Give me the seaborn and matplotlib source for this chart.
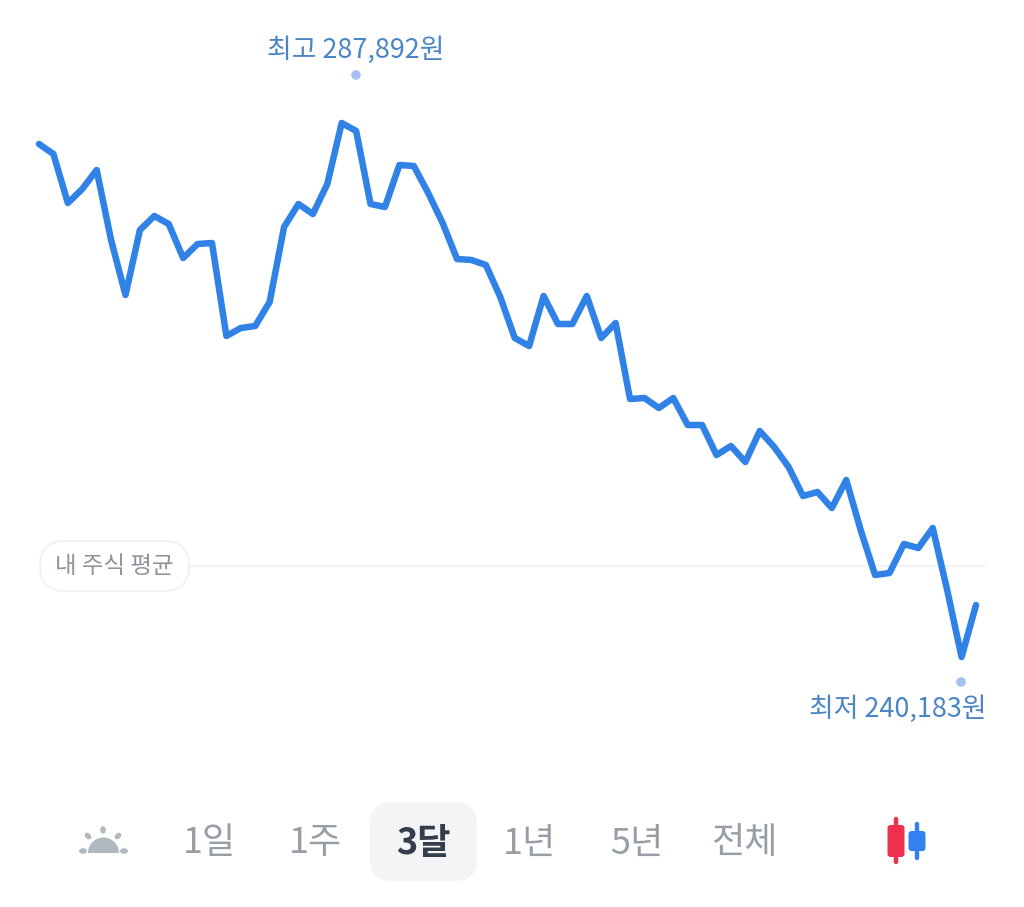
import matplotlib
matplotlib.use("Agg")
import matplotlib.pyplot as plt
from matplotlib.patches import FancyBboxPatch, Wedge, Circle, Ellipse
import numpy as np
import pandas as pd
import seaborn as sns

# Closing prices for the three-month view, in won
prices = [
    286016, 285122, 280745, 281996, 283693, 277439, 272526, 278333, 279583, 278869,
    275831, 277082, 277171, 268863, 269577, 269756, 271900, 278601, 280655, 279762,
    282442, 287892, 287177, 280655, 280387, 284140, 284050, 281638, 278958, 275742,
    275652, 275206, 272347, 268684, 267969, 272436, 269935, 269935, 272436, 268684,
    270024, 263234, 263323, 262430, 263323, 260911, 260911, 258231, 259035, 257606,
    260375, 258946, 257159, 254568, 254926, 253496, 255998, 251531, 247510, 247689,
    250280, 249922, 251709, 246170, 240183, 244830,
]
average_price = 248314
high_label = "최고 287,892원"
low_label = "최저 240,183원"
average_label = "내 주식 평균"
range_tabs = ["1일", "1주", "3달", "1년", "5년", "전체"]
selected_tab = "3달"

LINE_BLUE = "#3182E6"
LABEL_BLUE = "#4A86C5"
DOT_BLUE = "#A5C1F0"
TAB_GREY = "#989EA6"

sns.set_theme(style="white")
plt.rcParams["font.family"] = ["Noto Sans CJK KR", "DejaVu Sans"]

W, H = 1024, 907
fig = plt.figure(figsize=(W / 100, H / 100), dpi=100, facecolor="white")

# Price chart fills the whole canvas; limits place the series inside the upper area
ax = fig.add_axes([0, 0, 1, 1])

# Interface layer in canvas pixels
ui = fig.add_axes([0, 0, 1, 1], zorder=3)
ui.set_xlim(0, W)
ui.set_ylim(H, 0)
ui.axis("off")
ui.patch.set_alpha(0)

# Average-price reference line with its pill label
ax.plot([10.4, 65.65], [average_price, average_price], color="#F1F3F6", lw=1.6, zorder=1)
ui.add_patch(FancyBboxPatch((40, 541), 149, 50, boxstyle="round,pad=0,rounding_size=25",
                            fc="white", ec="#F1F2F4", lw=1.5))
ui.text(114, 566.5, average_label, ha="center", va="center", fontsize=16.9, color="#8E949C")

# Price series
frame = pd.DataFrame({"session": np.arange(len(prices)), "price": prices})
sns.lineplot(data=frame, x="session", y="price", ax=ax, color=LINE_BLUE, lw=4.7,
             solid_joinstyle="round", solid_capstyle="round", zorder=2)
ax.set_xlim(-2.705, 68.33)
ax.set_ylim(217849, 298881)
ax.axis("off")

# High and low callouts
ui.add_patch(Circle((356, 75), 4.8, fc=DOT_BLUE, ec="none"))
ui.add_patch(Circle((961, 682), 4.8, fc=DOT_BLUE, ec="none"))
ui.text(356, 50.5, high_label, ha="center", va="center", fontsize=19.4, color=LABEL_BLUE)
ui.text(898, 709, low_label, ha="center", va="center", fontsize=19.4, color=LABEL_BLUE)

# Range selector
ui.add_patch(FancyBboxPatch((370, 802), 107, 79, boxstyle="round,pad=0,rounding_size=22",
                            fc="#F2F4F6", ec="none"))
tab_centres = [209, 316, 423, 530, 637, 744]
for tab, cx in zip(range_tabs, tab_centres):
    active = tab == selected_tab
    ui.text(cx, 843.5, tab, ha="center", va="center", fontsize=26,
            color="#333D4B" if active else TAB_GREY,
            fontweight="bold" if active else "normal")

# Sunrise icon for the pre-market toggle
SUN = "#B0B8C1"
ui.add_patch(Wedge((103.5, 853), 15.5, 180, 360, fc=SUN, ec="none"))
for cx, cy, w, h, angle in [(103, 830, 5.5, 7.5, 0), (88, 836, 5.5, 7.5, -45), (118, 836, 5.5, 7.5, 45),
                            (83, 851, 8, 5.5, 0), (124, 851, 8, 5.5, 0)]:
    ui.add_patch(Ellipse((cx, cy), w, h, angle=angle, fc=SUN, ec="none"))

# Candlestick toggle icon
for cx, top, bottom, b_top, b_bot, w, colour in [(896, 819, 862, 825, 857, 17, "#F0304F"),
                                                 (917, 824, 858, 831, 851, 17, "#3182F0")]:
    ui.plot([cx, cx], [top, bottom], color=colour, lw=3.2, solid_capstyle="round")
    ui.add_patch(FancyBboxPatch((cx - w / 2, b_top), w, b_bot - b_top,
                                boxstyle="round,pad=0,rounding_size=3", fc=colour, ec="none"))

fig.savefig("out.png", dpi=100, facecolor="white")
